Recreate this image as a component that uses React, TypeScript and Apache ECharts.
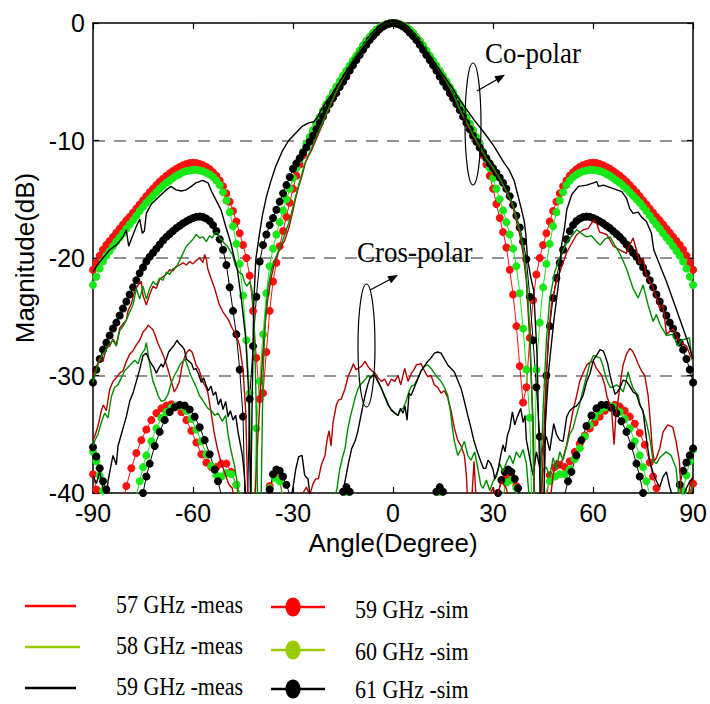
import React, { useEffect, useRef } from "react";
import * as echarts from "echarts";

// ---------- DATA ----------
const xTicks = [-90, -60, -30, 0, 30, 60, 90];
const yTicks = [-40, -30, -20, -10, 0];

// simulation grid: -90..90 step 1 deg
const simAngles = Array.from({ length: 181 }, (_, i) => i - 90);

// 59 GHz sim co-polar (red)
const sim59Co = [
  -21.0, -20.4, -19.8, -19.3, -18.9, -18.55, -18.2, -17.85, -17.5, -17.15, -16.8,
  -16.5, -16.15, -15.8, -15.45, -15.1, -14.75, -14.4, -14.1, -13.8, -13.5,
  -13.25, -13.0, -12.8, -12.6, -12.4, -12.25, -12.1, -12.0, -11.92, -11.9,
  -11.92, -12.0, -12.1, -12.25, -12.45, -12.7, -13.0, -13.4, -13.9, -14.5,
  -15.2, -16.0, -16.9, -17.9, -18.9, -20.0, -21.5, -24.5, -28.5, -32.0,
  -31.5, -28.0, -24.5, -22.0, -20.4, -19.0, -17.7, -16.5, -15.3, -14.1,
  -13.0, -12.05, -11.25, -10.55, -9.9, -9.25, -8.65, -8.1, -7.55, -7.0,
  -6.5, -6.0, -5.5, -5.05, -4.6, -4.15, -3.7, -3.25, -2.85, -2.4,
  -1.95, -1.55, -1.2, -0.85, -0.58, -0.38, -0.22, -0.1, -0.03,
  0,
  -0.03, -0.1, -0.22, -0.38, -0.58, -0.85, -1.2, -1.55, -1.95, -2.4,
  -2.85, -3.25, -3.7, -4.15, -4.6, -5.05, -5.5, -6.0, -6.5, -7.0,
  -7.55, -8.1, -8.65, -9.25, -9.9, -10.55, -11.25, -12.05, -13.0, -14.1,
  -15.4, -16.6, -17.8, -19.1, -21.0, -23.1, -25.8, -29.2, -32.3, -31.0,
  -26.8, -23.6, -21.4, -20.0, -18.9, -17.9, -16.9, -16.0, -15.2, -14.5,
  -13.9, -13.4, -13.0, -12.7, -12.45, -12.25, -12.1, -12.0, -11.92, -11.9,
  -11.92, -12.0, -12.1, -12.25, -12.4, -12.6, -12.8, -13.0, -13.25, -13.5,
  -13.8, -14.1, -14.4, -14.75, -15.1, -15.45, -15.8, -16.15, -16.5, -16.8,
  -17.15, -17.5, -17.85, -18.2, -18.55, -18.9, -19.3, -19.8, -20.4, -21.0,
];

// 60 GHz sim co-polar (green)
const sim60Co = [
  -22.3, -21.6, -20.9, -20.3, -19.8, -19.4, -19.0, -18.6, -18.25, -17.9, -17.5,
  -17.15, -16.8, -16.4, -16.0, -15.65, -15.3, -15.0, -14.7, -14.4, -14.1,
  -13.85, -13.6, -13.4, -13.2, -13.0, -12.85, -12.7, -12.6, -12.55, -12.5,
  -12.5, -12.55, -12.62, -12.75, -12.9, -13.1, -13.4, -13.8, -14.4, -15.1,
  -16.1, -17.3, -18.8, -20.5, -23.2, -27.0, -31.5, -46, -34.5, -30.5,
  -26.5, -23.0, -20.7, -19.2, -18.0, -16.95, -15.95, -15.0, -14.1, -13.2,
  -12.35, -11.6, -10.95, -10.3, -9.7, -9.1, -8.55, -8.0, -7.45, -6.9,
  -6.4, -5.9, -5.42, -4.95, -4.5, -4.07, -3.62, -3.18, -2.78, -2.33,
  -1.9, -1.52, -1.18, -0.85, -0.58, -0.38, -0.22, -0.1, -0.03,
  0,
  -0.03, -0.1, -0.22, -0.38, -0.58, -0.85, -1.18, -1.52, -1.9, -2.33,
  -2.78, -3.18, -3.62, -4.07, -4.5, -4.95, -5.42, -5.9, -6.4, -6.9,
  -7.45, -8.0, -8.55, -9.1, -9.7, -10.3, -10.95, -11.6, -12.35, -13.2,
  -14.1, -15.0, -15.95, -16.95, -18.0, -19.2, -20.7, -23.0, -26.0, -29.5,
  -33.6, -46, -29.5, -25.5, -22.5, -20.5, -18.8, -17.3, -16.1, -15.1,
  -14.4, -13.8, -13.4, -13.1, -12.9, -12.75, -12.62, -12.55, -12.5, -12.5,
  -12.55, -12.6, -12.7, -12.85, -13.0, -13.2, -13.4, -13.6, -13.85, -14.1,
  -14.4, -14.7, -15.0, -15.3, -15.65, -16.0, -16.4, -16.8, -17.15, -17.5,
  -17.9, -18.25, -18.6, -19.0, -19.4, -19.8, -20.3, -20.9, -21.6, -22.3,
];

// 61 GHz sim co-polar (black)
const sim61Co = [
  -30.6, -29.5, -28.6, -27.8, -27.2, -26.6, -26.0, -25.5, -24.9, -24.3, -23.7,
  -23.1, -22.5, -21.9, -21.3, -20.8, -20.3, -19.9, -19.55, -19.2, -18.85,
  -18.5, -18.2, -17.95, -17.7, -17.45, -17.25, -17.05, -16.88, -16.72, -16.6,
  -16.5, -16.48, -16.52, -16.65, -16.85, -17.2, -17.7, -18.4, -19.3, -20.6,
  -22.5, -24.5, -26.5, -29.5, -33.5, -46, -32.0, -27.5, -23.3, -20.3,
  -18.9, -18.0, -17.2, -16.6, -15.9, -15.2, -14.5, -13.8, -13.1, -12.4,
  -11.95, -11.5, -11.05, -10.6, -10.1, -9.6, -9.05, -8.5, -7.95, -7.4,
  -6.9, -6.4, -5.95, -5.45, -5.0, -4.55, -4.05, -3.6, -3.15, -2.72,
  -2.28, -1.85, -1.45, -1.12, -0.82, -0.52, -0.3, -0.14, -0.04,
  0,
  -0.04, -0.14, -0.3, -0.52, -0.82, -1.12, -1.45, -1.85, -2.28, -2.72,
  -3.15, -3.6, -4.05, -4.55, -5.0, -5.45, -5.95, -6.4, -6.9, -7.4,
  -7.95, -8.5, -9.05, -9.6, -10.1, -10.6, -11.05, -11.5, -11.95, -12.35,
  -12.75, -13.15, -13.6, -14.1, -14.75, -15.5, -16.4, -17.4, -18.6, -20.1,
  -23.3, -27.0, -31.0, -35.2, -46, -30.0, -25.8, -23.4, -21.7, -20.4,
  -19.3, -18.4, -17.7, -17.2, -16.85, -16.65, -16.52, -16.48, -16.5, -16.6,
  -16.72, -16.88, -17.05, -17.25, -17.45, -17.7, -17.95, -18.2, -18.5, -18.85,
  -19.2, -19.55, -19.9, -20.3, -20.8, -21.3, -21.9, -22.5, -23.1, -23.7,
  -24.3, -24.9, -25.5, -26.0, -26.6, -27.2, -27.8, -28.6, -29.5, -30.6,
];

// sim cross-polar [angle, dB] (values below -40 fall outside the frame)
const sim59X = [
  [-90, -38.4], [-89, -39.7], [-88, -42], [-86, -46], [-82, -46], [-81, -41], [-80, -39.4],
  [-78.5, -37.9], [-77, -36.6], [-75.5, -35.5], [-74, -34.6], [-72.5, -33.8], [-71, -33.2],
  [-69.5, -32.8], [-68, -32.55], [-66.5, -32.45], [-65, -32.6], [-63.5, -33.1], [-62, -33.8],
  [-60.5, -34.7], [-59, -35.7], [-57.5, -36.7], [-56, -37.4], [-54.5, -37.8], [-53, -37.8],
  [-51.5, -37.5], [-50, -37.5], [-48.5, -38.2], [-47, -39.3], [-46, -41], [-44, -46],
  [-38, -46], [-37, -39.4], [-35.5, -38.6], [-34, -38.8], [-33, -40.5], [-32, -46],
  [-16, -46], [-15, -40.2], [-14, -39.8], [-13, -40.2], [-12, -46],
  [12, -46], [13, -40.2], [14, -39.8], [15, -40.2], [16, -46],
  [32, -46], [33, -40.5], [34, -38.8], [35.5, -38.6], [37, -39.4], [38, -46],
  [44, -46], [46, -40.5], [47, -38.5], [48.5, -37.8], [50, -37.6], [51.5, -37.8], [53, -37.3],
  [54.5, -36.5], [56, -35.8], [57.5, -35.1], [59, -34.5], [60.5, -34.0], [62, -33.5],
  [63.5, -33.0], [65, -32.7], [66.5, -32.5], [68, -32.65], [69.5, -33.0], [71, -33.5],
  [72.5, -34.1], [74, -34.9], [75.5, -35.9], [77, -37.4], [78, -38.6], [79, -39.6], [80, -41],
  [82, -46], [88, -46], [89, -40.5], [90, -39.2],
];
const sim60X = [
  [-90, -36.5], [-89, -37.3], [-88, -38.5], [-87, -39.8], [-86, -41.5], [-84, -46], [-78, -46],
  [-77, -40.2], [-76, -39.0], [-75, -37.8], [-74, -36.8], [-72.5, -35.6], [-71, -34.5],
  [-69.5, -33.6], [-68, -33.1], [-66.5, -32.75], [-65, -32.55], [-63.5, -32.6], [-62, -33.0],
  [-60.5, -33.7], [-59, -34.6], [-57.5, -35.6], [-56, -36.7], [-54.5, -37.7], [-53, -38.5],
  [-51.5, -38.6], [-50, -38.3], [-48.5, -38.4], [-47, -39.3], [-45.5, -40.2], [-44, -46],
  [-38, -46], [-37, -39.6], [-35.5, -38.7], [-34, -39.0], [-33, -40.5], [-32, -46],
  [-16, -46], [-15, -40.3], [-14, -39.9], [-13, -40.3], [-12, -46],
  [12, -46], [13, -40.3], [14, -39.9], [15, -40.3], [16, -46],
  [32, -46], [33, -40.2], [34, -39.1], [35.5, -38.9], [37, -39.6], [38, -46],
  [44, -46], [45.5, -40.2], [47, -39.0], [48.5, -38.6], [50, -38.4], [51.5, -38.4], [53, -38.0],
  [54.5, -37.1], [56, -36.2], [57.5, -35.2], [59, -34.2], [60.5, -33.5], [62, -33.0],
  [63.5, -32.7], [65, -32.6], [66.5, -32.7], [68, -33.1], [69.5, -33.7], [71, -34.5],
  [72.5, -35.6], [74, -36.8], [75, -37.8], [76, -39.0], [77, -40.2], [78, -46], [84, -46],
  [86, -41.5], [87, -39.8], [88, -38.5], [89, -37.3], [90, -36.3],
];
const sim61X = [
  [-90, -36.1], [-89, -36.9], [-88, -37.9], [-87, -39.0], [-86, -39.7], [-85, -41], [-83, -46],
  [-77, -46], [-76, -41.5], [-75, -40], [-74, -38.6], [-73, -37.5], [-71.5, -36.0], [-70, -34.8],
  [-68.5, -33.8], [-67, -33.1], [-65.5, -32.7], [-64, -32.5], [-62.5, -32.55], [-61, -32.9],
  [-59.5, -33.5], [-58, -34.4], [-56.5, -35.5], [-55, -36.7], [-53.5, -38.0], [-52.5, -39.0],
  [-51.5, -40.2], [-50, -46],
  [-38, -46], [-37, -39.7], [-36, -38.4], [-35, -38.0], [-34, -38.1], [-33, -38.6], [-32, -39.3],
  [-31, -40.1], [-30, -46],
  [-16, -46], [-15, -39.9], [-14, -39.5], [-13, -39.9], [-12, -46],
  [12, -46], [13, -39.9], [14, -39.5], [15, -39.9], [16, -46],
  [30, -46], [31.5, -40], [32.5, -38.9], [33.5, -38.2], [34.5, -38.0], [35.5, -38.2],
  [36.5, -38.8], [37.5, -39.6], [38.5, -41], [40, -46],
  [50, -46], [51.5, -40.1], [52.5, -39.0], [53.5, -38.2], [55, -36.8], [56.5, -35.5], [58, -34.3],
  [59.5, -33.4], [61, -32.8], [62.5, -32.5], [64, -32.5], [65.5, -32.75], [67, -33.2],
  [68.5, -33.9], [70, -34.8], [71.5, -36.0], [73, -37.5], [74, -38.6], [75, -40], [76, -41.5],
  [77, -46], [83, -46], [85, -41], [86, -39.3], [87, -38.1], [88, -37.4], [89, -36.8], [90, -36.2],
];

// measured co-polar [angle, dB]
const meas57Co = [
  [-90, -30.0], [-89, -29.3], [-88, -28.5], [-87, -28.8], [-86, -27.6], [-85, -27.5], [-84, -26.9],
  [-83, -27.4], [-82, -26.0], [-81, -25.6], [-80, -25.3], [-79.5, -24.5], [-78.5, -23.9],
  [-77.5, -22.8], [-76.5, -22.3], [-75.5, -22.0], [-75, -23.2], [-74, -24.0], [-73, -23.1],
  [-72, -22.4], [-71, -22.6], [-70, -21.8], [-69, -21.6], [-68, -21.4], [-67, -21.0], [-66, -21.1],
  [-65, -20.7], [-64, -20.6], [-63, -20.4], [-62, -20.6], [-61, -20.3], [-60, -20.5], [-59, -20.2],
  [-58, -20.0], [-57, -20.4], [-56.5, -19.7], [-56, -20.1], [-55.6, -20.9], [-54.5, -21.8],
  [-53.5, -22.6], [-52.2, -23.9], [-51, -24.6], [-49.5, -25.2], [-48.2, -26.0], [-47, -26.6],
  [-46, -27.5], [-45, -29.5], [-44.2, -33], [-43.5, -41], [-41.5, -41], [-40.5, -35], [-39.5, -30],
  [-38.5, -26], [-37.5, -23.3], [-36.5, -21.6], [-35.5, -20.4], [-34.5, -19.6], [-33.5, -19.0],
  [-32.5, -18.5], [-31.3, -17.5], [-30.2, -16.2], [-29.3, -15.0], [-28.3, -13.9], [-27.3, -13.0],
  [-26.3, -11.9], [-25.3, -11.3], [-24.4, -10.8], [-23.2, -10.0], [-22, -9.2], [-20, -7.8],
  [-18, -6.5], [-16, -5.3], [-14, -4.2], [-12, -3.2], [-10, -2.4], [-8, -1.6], [-6, -0.95],
  [-4, -0.45], [-2, -0.12], [0, 0], [2, -0.1], [4, -0.4], [6, -0.9], [8, -1.55], [10, -2.35],
  [12, -3.2], [14, -4.1], [16, -5.0], [18, -6.1], [20, -7.4], [22, -8.5], [24, -9.6], [26, -10.6],
  [28, -11.6], [30, -12.4], [32, -13.3], [34, -14.4], [36, -15.7], [38, -18.0], [39, -19.6],
  [40, -22], [41, -27], [42, -34], [42.5, -41], [44.5, -41], [45.5, -33], [46.5, -27], [47.5, -24],
  [49, -22], [50.5, -20.8], [52, -19.6], [53.1, -19.0], [55.1, -18.0], [57.1, -17.6],
  [58.5, -17.5], [60.1, -16.8], [61, -17.0], [62, -17.8], [64.1, -18.0], [66.1, -19.0],
  [68, -19.3], [70, -19.6], [71, -18.9], [72, -18.3], [73, -19.3], [74, -20.5], [75, -20.0],
  [76, -21.5], [78, -22.5], [80, -24.3], [81, -24.0], [82, -26.5], [84, -26.0], [85.9, -27.1],
  [88, -27.5], [89, -28.2], [90, -28.8],
];
const meas58Co = [
  [-90, -30.6], [-89, -29.5], [-88, -28.7], [-87, -28.2], [-86, -27.8], [-85, -27.3], [-84, -27.0],
  [-83, -27.5], [-82, -26.2], [-81, -25.8], [-80, -25.3], [-79, -24.6], [-78, -24.0], [-77, -22.6],
  [-76, -23.5], [-75, -22.4], [-74, -23.5], [-73, -22.6], [-72, -22.0], [-71, -22.3], [-70, -21.7],
  [-69, -21.9], [-68, -21.2], [-67, -21.4], [-66, -20.9], [-65, -20.8], [-64, -20.2], [-63, -19.6],
  [-62, -19.0], [-61, -18.7], [-60, -18.4], [-59, -18.0], [-58, -18.3], [-57, -18.2], [-56, -18.6],
  [-55, -18.1], [-54.2, -18.3], [-53.5, -17.9], [-52.7, -17.8], [-52, -18.3], [-51.2, -18.5],
  [-50.5, -18.8], [-49.7, -19.0], [-48.2, -19.7], [-47.2, -20.7], [-46.2, -21.2], [-45.2, -21.4],
  [-44.5, -22.1], [-43.8, -22.4], [-43.0, -22.0], [-42.3, -22.7], [-41.6, -26], [-41.1, -32],
  [-40.6, -41], [-39.6, -41], [-39, -30], [-38.3, -25], [-37.5, -22.5], [-36.5, -21],
  [-35.5, -20.2], [-34.5, -19.5], [-33.5, -18.8], [-32.5, -18.0], [-31.5, -17.2], [-30.5, -16.2],
  [-29.5, -15.1], [-28.5, -14.0], [-27.5, -13.0], [-26.5, -12.0], [-25.5, -11.3], [-24.5, -10.7],
  [-23.3, -9.9], [-22, -9.0], [-20, -7.7], [-18, -6.4], [-16, -5.2], [-14, -4.1], [-12, -3.1],
  [-10, -2.3], [-8, -1.55], [-6, -0.9], [-4, -0.42], [-2, -0.1], [0, 0], [2, -0.1], [4, -0.38],
  [6, -0.88], [8, -1.5], [10, -2.3], [12, -3.15], [14, -4.05], [16, -4.95], [18, -6.0], [20, -7.3],
  [22, -8.4], [24, -9.5], [26, -10.5], [28, -11.5], [30, -12.3], [32, -13.2], [34, -14.3],
  [36, -15.5], [38, -17.6], [39, -19.0], [40, -21.5], [41, -26], [41.8, -33], [42.3, -41],
  [44, -41], [45, -33], [46, -27], [47, -23.5], [48.5, -21.2], [50, -20.0], [51.5, -19.0],
  [53.1, -18.3], [55.1, -17.6], [56.5, -17.9], [58, -18.2], [59.5, -18.1], [61, -18.6],
  [62.1, -18.9], [63.5, -18.4], [65.1, -18.2], [66.5, -18.9], [68, -19.6], [70, -20.9],
  [72, -22.6], [73.5, -23.4], [75, -22.3], [76.5, -24.0], [78, -25.4], [79, -24.8], [80, -25.6],
  [82, -26.6], [83.9, -26.5], [85.5, -27.5], [86.5, -27.0], [88.9, -26.8], [89.4, -28.0], [90, -28.8],
];
const meas59Co = [
  [-90, -21.2], [-88.5, -20.5], [-87, -20.0], [-85, -19.3], [-83, -18.9], [-81, -18.2], [-80, -17.6],
  [-79.3, -19.0], [-78.5, -18.4], [-77, -17.3], [-76, -16.7], [-75.2, -17.9], [-74.6, -17.7],
  [-74, -16.2], [-72.5, -15.4], [-71, -15.0], [-69.5, -14.6], [-68, -14.2], [-66.6, -13.9],
  [-65.1, -14.2], [-63.5, -14.3], [-62.1, -14.2], [-60.5, -13.9], [-59.1, -13.6], [-57.1, -13.4],
  [-55.5, -13.6], [-54.5, -14.3], [-53.6, -14.8], [-51.6, -15.9], [-50.2, -17.3], [-48.7, -18.7],
  [-47.7, -19.9], [-46.7, -21.0], [-45.5, -23.5], [-44.2, -26.8], [-43.3, -31.5], [-42.7, -41],
  [-42.3, -33], [-41.8, -24], [-41.2, -20.2], [-40.2, -18.2], [-39.2, -16.4], [-38, -14.8],
  [-36.7, -13.5], [-35.2, -12.2], [-33.3, -10.95], [-31.3, -10.0], [-29.3, -9.4], [-27.3, -8.8],
  [-25.3, -8.5], [-23.8, -8.4], [-22.6, -8.0], [-21.4, -7.3], [-20, -6.7], [-18, -5.9], [-16, -5.0],
  [-14, -4.1], [-12, -3.3], [-10, -2.5], [-8, -1.75], [-6, -1.0], [-4, -0.45], [-2, -0.12], [0, 0],
  [2, -0.1], [4, -0.4], [6, -0.9], [8, -1.6], [10, -2.4], [12, -3.2], [14, -4.0], [16, -4.8],
  [18, -5.6], [19.4, -6.3], [21.4, -7.1], [24.3, -8.25], [26.3, -8.96], [28.3, -9.7], [30.3, -10.5],
  [31.8, -11.2], [33.3, -11.9], [34.8, -12.5], [36.3, -13.4], [37.3, -14.5], [38.3, -15.6],
  [39.3, -16.8], [39.8, -17.9], [40.3, -20.0], [41.2, -21.5], [42.2, -22.8], [43.2, -28.3],
  [43.8, -36], [44.2, -41], [45.2, -41], [45.7, -34], [46.7, -29.5], [48.2, -25.4], [49.7, -22.0],
  [50.5, -19.0], [51.5, -17.3], [52.1, -15.9], [53.6, -14.6], [55.6, -13.9], [58.1, -13.8],
  [60.1, -13.6], [61.1, -13.5], [61.6, -13.9], [63.1, -13.8], [66.1, -14.1], [68.6, -14.35],
  [70, -14.9], [71, -15.8], [72, -16.2], [73.5, -16.1], [74.5, -16.5], [76, -16.9], [77.5, -17.9],
  [78.2, -19.3], [80, -20.6], [82, -22.0], [84, -23.6], [86, -25.2], [88, -26.8], [90, -28.6],
];

// measured cross-polar [angle, dB]
const meas57X = [
  [-90, -35.5], [-89.4, -35.1], [-88.5, -34.3], [-87.5, -33.0], [-86.9, -32.5], [-86, -33.0],
  [-85, -31.2], [-84, -30.5], [-83, -30.2], [-82, -29.8], [-81, -29.6], [-80, -28.8], [-79, -28.2],
  [-78, -27.9], [-77, -27.4], [-76, -27.0], [-75, -26.3], [-74, -26.0], [-73.5, -25.7],
  [-72.8, -25.9], [-72, -26.1], [-71.2, -26.7], [-70.5, -27.3], [-69.5, -27.9], [-68.5, -28.6],
  [-67.6, -29.4], [-66.6, -30.4], [-65.6, -31.4], [-64.8, -31.0], [-64.1, -30.5], [-63.3, -29.2],
  [-62.6, -28.5], [-61.8, -28.0], [-61.1, -27.8], [-60.3, -28.0], [-59.6, -28.6], [-59.1, -29.1],
  [-58.2, -29.5], [-57.1, -30.5], [-56.3, -30.9], [-55.6, -31.4], [-54.6, -33.1], [-53.7, -34.8],
  [-52.7, -36.2], [-51.7, -37.3], [-50.6, -38.2], [-49.2, -39.3], [-48.2, -39.6], [-47.5, -41],
  [-30, -41], [-28, -40.5], [-27, -40], [-26, -39.5], [-25, -40.2], [-24, -39.2], [-23.2, -38.8],
  [-22.4, -38.8], [-21.5, -37.6], [-20.4, -36.8], [-19.8, -35.5], [-19.2, -34.7], [-18.6, -36.0],
  [-18, -34.0], [-17, -32.5], [-16.4, -32.1], [-15.5, -32.0], [-14.5, -31.2], [-13.4, -30.0],
  [-12.7, -29.6], [-11.9, -29.0], [-11.1, -29.5], [-10.4, -29.4], [-9.4, -29.2], [-8.4, -28.8],
  [-7.4, -29.3], [-6.4, -29.6], [-5.4, -29.8], [-4.5, -30.2], [-3.5, -30.5], [-2.5, -30.3],
  [-1.5, -30.9], [-0.5, -30.3], [0.5, -30.5], [1.5, -30.0], [2.3, -30.8], [3.5, -29.4],
  [4.5, -30.5], [5.5, -29.8], [6.3, -29.5], [7, -29.1], [8.4, -29.0], [9.4, -29.6], [10.4, -30.1],
  [11.4, -30.0], [12.4, -30.8], [13.4, -31.0], [14.4, -31.5], [15.4, -31.3], [16.4, -31.9],
  [17.4, -33.0], [18.4, -34.5], [19.4, -35.5], [20.4, -36.0], [21.4, -36.8], [22.0, -38.5],
  [22.4, -41], [23.5, -41], [24.3, -37.3], [25, -41], [28, -41], [30, -39.5], [31, -40.5],
  [32.5, -39.0], [34, -39.6], [35, -41], [47, -41], [48, -38.5], [49, -37.2], [50, -37.8],
  [51, -37.0], [52, -36.0], [53, -34.5], [54, -33.0], [55, -31.8], [56, -30.5], [57, -29.8],
  [58.1, -29.1], [59, -28.9], [60.1, -28.8], [61, -29.4], [62.6, -30.0], [63.5, -30.8],
  [64.1, -31.7], [65, -32.5], [65.6, -33.1], [66.3, -35.9], [66.8, -33.5], [67.6, -31.9],
  [68.3, -30.4], [69, -29.1], [70, -28.2], [71, -27.7], [71.8, -27.9], [72.5, -28.3],
  [73.5, -29.0], [74.5, -29.6], [75.5, -30.0], [76.5, -31.7], [77.2, -34.0], [77.7, -36.0],
  [78.3, -37.3], [79, -37.0], [80, -36.2], [81, -34.8], [82.4, -34.2], [83.9, -34.4],
  [84.9, -35.6], [85.9, -37.3], [86.6, -41], [88, -41], [89, -39.5], [90, -38.5],
];
const meas58X = [
  [-90, -36.0], [-89.4, -35.5], [-88.5, -35.0], [-87.5, -34.0], [-86.5, -33.2], [-85.5, -33.6],
  [-84.5, -31.8], [-83.5, -31.0], [-82.5, -30.8], [-81.5, -30.2], [-80.5, -29.6], [-79.5, -29.3],
  [-78.5, -29.0], [-77.5, -28.7], [-76.5, -29.0], [-75.5, -28.2], [-74.5, -27.8], [-74, -27.2],
  [-73.3, -28.5], [-72.5, -29.8], [-72, -30.5], [-71.3, -31.0], [-70.5, -31.7], [-69.5, -32.2],
  [-68.5, -32.1], [-67.5, -31.6], [-66.5, -30.6], [-65.6, -30.0], [-64.6, -29.5], [-63.8, -29.0],
  [-63.1, -28.8], [-62.4, -28.6], [-61.6, -29.2], [-60.8, -29.9], [-60, -30.4], [-59, -31.0],
  [-58.1, -31.7], [-57.3, -32.0], [-56.5, -32.4], [-55.5, -32.8], [-54.5, -33.0], [-53.5, -33.4],
  [-52.5, -33.2], [-51.2, -33.9], [-50.2, -33.4], [-49.5, -35.0], [-48.6, -36.4], [-47.6, -37.6],
  [-46.8, -39.0], [-46, -41],
  [-18, -41], [-16.8, -39.6], [-16, -38.0], [-15.2, -37.0], [-14.4, -36.2], [-13.6, -34.6],
  [-12.8, -33.5], [-12, -32.6], [-11.4, -31.9], [-10.6, -31.2], [-9.9, -30.8], [-8.8, -30.5],
  [-7.4, -30.0], [-6.6, -30.2], [-5.7, -29.8], [-4.8, -30.4], [-3.8, -30.9], [-2.5, -31.7],
  [-1.5, -32.4], [-0.5, -33.0], [0.6, -33.2], [1.5, -33.4], [2.3, -32.9], [3.0, -32.8],
  [3.8, -32.3], [4.6, -31.5], [5.5, -30.9], [6.4, -30.8], [7.5, -30.2], [8.5, -29.6], [9.5, -29.2],
  [10.4, -29.1], [11.4, -29.4], [12.4, -29.8], [13.4, -30.2], [14.4, -30.5], [15.4, -31.0],
  [16.4, -31.7], [17.2, -33.0], [17.8, -34.5], [18.4, -35.6], [19.4, -36.8], [20.4, -36.3],
  [21.4, -35.6], [22.4, -36.8], [23.4, -37.2], [24.5, -36.5], [25.5, -38.0], [26.3, -39.3],
  [27, -39.6], [28, -38.9], [29, -39.8], [30, -39.0], [31, -38.6], [32, -37.5], [33, -38.2],
  [34, -37.4], [35, -36.8], [36, -37.5], [37, -36.5], [38, -37.0], [39, -36.3], [40, -37.5],
  [41, -41], [44, -41], [45, -38], [46, -37.8], [47, -38.6], [48, -37.0], [49, -38.0], [50, -36.5],
  [51, -37.2], [52, -36.1], [53, -35.0], [54, -34.5], [55, -33.4], [56, -32.4], [57, -31.2],
  [58.1, -30.0], [59, -29.0], [60.1, -28.3], [61, -28.4], [62.1, -28.5], [63, -29.2], [64, -30.3],
  [65.1, -31.0], [66, -31.0], [67, -30.8], [68, -31.0], [69, -31.4], [69.8, -30.6], [70.5, -29.7],
  [71.2, -30.4], [72, -31.1], [73.5, -31.7], [74.2, -32.6], [75, -33.1], [76, -34.0], [77, -35.3],
  [78, -37.3], [79, -37.5], [80, -37.0], [81.9, -36.5], [83.4, -36.8], [84.9, -37.9],
  [85.7, -40.2], [86.5, -41], [88, -41], [89, -40], [90, -39.2],
];
const meas59X = [
  [-90, -38.5], [-89, -39.2], [-88, -38.2], [-87, -39.5], [-86, -40.5], [-85.5, -39], [-84.5, -37.5],
  [-84, -36.8], [-83, -37.6], [-82.5, -36.0], [-81.5, -35.0], [-81, -34.5], [-80, -33.5],
  [-79, -32.2], [-78, -31.5], [-77, -30.5], [-76, -29.5], [-75, -28.3], [-74, -28.1],
  [-73.3, -28.6], [-72.5, -29.0], [-71.8, -29.3], [-71, -29.8], [-70.5, -29.5], [-69.5, -29.0],
  [-69, -29.3], [-68, -28.6], [-67.3, -28.0], [-66.5, -27.7], [-65.6, -27.4], [-64.8, -27.0],
  [-64.1, -27.3], [-63.3, -27.5], [-62.6, -27.8], [-62, -28.6], [-61.2, -28.8], [-60.4, -29.0],
  [-59.8, -29.5], [-59.1, -29.4], [-58.3, -29.9], [-57.5, -30.6], [-56.8, -30.2], [-56.1, -30.8],
  [-55.4, -31.3], [-54.6, -30.9], [-53.9, -31.7], [-53.2, -31.4], [-52.4, -32.5], [-51.7, -32.0],
  [-51, -32.9], [-50.2, -32.2], [-49.5, -33.5], [-48.8, -33.0], [-48, -33.8], [-47.2, -33.4],
  [-46.5, -34.8], [-45.7, -36.0], [-45.2, -36.8], [-44.6, -38.4], [-44, -41],
  [-31, -41], [-30, -39.5], [-29.2, -38.0], [-28.3, -36.9], [-27.3, -36.8], [-26.5, -38.5],
  [-25.5, -38.8], [-24.8, -40.5], [-24, -41],
  [-16, -41], [-15.2, -40.2], [-14.4, -39.0], [-13.4, -37.5], [-12.4, -36.2], [-11.4, -35.6],
  [-10.6, -34.8], [-9.9, -33.8], [-9.2, -32.8], [-8.4, -31.7], [-7.6, -30.8], [-6.9, -30.2],
  [-6.1, -30.0], [-5.4, -30.0], [-4.5, -30.5], [-3.5, -31.1], [-2.5, -31.8], [-1.5, -32.5],
  [-0.5, -32.9], [0.5, -33.2], [1.5, -33.4], [2.2, -32.8], [3.0, -33.2], [3.6, -32.6], [4.2, -33.8],
  [4.8, -31.5], [5.4, -31.7], [6.4, -31.0], [7.4, -30.3], [8.4, -29.6], [9.4, -29.2], [10.4, -28.8],
  [11.4, -28.5], [12.4, -28.1], [13.4, -28.0], [14.4, -28.1], [15.4, -28.6], [16.4, -29.1],
  [17.4, -29.4], [18.4, -29.7], [19.4, -30.4], [20.4, -31.1], [21.4, -32.2], [22.4, -33.4],
  [23.4, -34.5], [24.3, -35.6], [25.3, -36.5], [26.3, -37.3], [27.1, -37.9], [27.8, -37.9],
  [28.5, -37.2], [29.3, -37.5], [30, -38.0], [30.5, -38.8], [31.5, -38.0], [32.3, -36.8],
  [33, -35.9], [33.6, -36.5], [34.3, -35.1], [35, -34.5], [35.8, -33.1], [36.5, -34.2],
  [37.3, -33.5], [38.3, -32.8], [39, -34.0], [39.6, -33.4], [40, -35.5], [41, -37.0], [42, -38.5],
  [43, -36.5], [44, -37.8], [45, -36.0], [46, -35.2], [47, -36.4], [48.2, -34.1], [49, -35.0],
  [50, -35.5], [51, -35.6], [52.1, -33.5], [53, -33.0], [54.1, -32.7], [55, -32.6], [56.1, -32.2],
  [57, -31.7], [58, -30.6], [59.1, -29.8], [60.1, -28.7], [61, -28.3], [62.1, -27.8], [63, -27.9],
  [63.6, -28.3], [64.4, -29.0], [65.1, -30.0], [65.8, -30.8], [66.6, -31.6], [67.3, -31.4],
  [68.1, -31.0], [69, -30.4], [70, -30.5], [71, -30.9], [72, -31.4], [73, -31.6], [74, -32.5],
  [75, -33.0], [75.6, -34.5], [76.3, -36.0], [77, -37.3], [78, -38.3], [79, -39.0], [80, -39.5],
  [81, -38.6], [82, -38.2], [83, -39.5], [84, -40.5], [84.5, -41], [86, -41], [87, -40.3],
  [88, -39.6], [89, -39.0], [90, -38.7],
];

// legend entries
const legendMeas = [
  { label: "57 GHz -meas", color: "#ff0000" },
  { label: "58 GHz -meas", color: "#99cc00" },
  { label: "59 GHz -meas", color: "#000000" },
];
const legendSim = [
  { label: "59 GHz -sim", color: "#ff0000" },
  { label: "60 GHz -sim", color: "#99cc00" },
  { label: "61 GHz -sim", color: "#000000" },
];

const SIM_RED = "#ff1010";
const SIM_GREEN = "#18e818";
const MEAS_RED = "#b00000";
const MEAS_GREEN = "#008c00";

const toPairs = (vals: number[]) => simAngles.map((a, i) => [a, vals[i]]);

export default function App() {
  const ref = useRef<HTMLDivElement>(null);

  useEffect(() => {
    if (!ref.current) return;
    const chart = echarts.init(ref.current, null, { renderer: "svg" });

    const axisFont = "Liberation Sans";
    const serif = '"Liberation Serif"';
    const simSeries = (data: any[], color: string, z: number) => ({
      type: "line",
      data,
      symbol: "circle",
      symbolSize: 8,
      showSymbol: true,
      showAllSymbol: true,
      clip: true,
      z,
      lineStyle: { width: 1, color },
      itemStyle: { color, borderWidth: 0 },
      emphasis: { disabled: true },
    });
    const measSeries = (data: any[], color: string, z: number) => ({
      type: "line",
      data,
      symbol: "none",
      showSymbol: false,
      clip: true,
      z,
      lineStyle: { width: 1.4, color },
      emphasis: { disabled: true },
    });

    const tallText = (text: string, x: number, y: number, size: number, sy: number) => ({
      type: "text",
      x,
      y,
      scaleY: sy,
      z: 100,
      style: {
        text,
        font: `${size}px ${serif}`,
        lineHeight: size,
        fill: "#000",
        align: "left",
        verticalAlign: "middle",
      },
    });

    const legendGraphics: any[] = [];
    const measRowsY = [606, 647, 688];
    const measLineEnd = [76, 80, 76];
    const simRowsY = [607, 650, 689];
    const simTextY = [609, 651, 689];
    legendMeas.forEach((it, i) => {
      legendGraphics.push({
        type: "line",
        shape: { x1: 25, y1: measRowsY[i], x2: measLineEnd[i], y2: measRowsY[i] },
        style: { stroke: it.color, lineWidth: 2.5 },
      });
      legendGraphics.push(tallText(it.label, 116, measRowsY[i] - 2, 22, 1.15));
    });
    legendSim.forEach((it, i) => {
      legendGraphics.push({
        type: "line",
        shape: { x1: 271, y1: simRowsY[i], x2: 325, y2: simRowsY[i] },
        style: { stroke: it.color, lineWidth: 2.5 },
      });
      legendGraphics.push({
        type: "ellipse",
        shape: { cx: 293, cy: simRowsY[i], rx: 7.5, ry: 9.5 },
        style: { fill: it.color },
      });
      legendGraphics.push(tallText(it.label, 355, simTextY[i], 22, 1.15));
    });

    const annotation: any[] = [
      tallText("Co-polar", 485, 52, 27, 1.12),
      {
        type: "ellipse",
        z: 100,
        shape: { cx: 473, cy: 124, rx: 8, ry: 61 },
        style: { fill: "none", stroke: "#000", lineWidth: 1.2 },
      },
      {
        type: "line",
        z: 100,
        shape: { x1: 477, y1: 91, x2: 497, y2: 79.5 },
        style: { stroke: "#000", lineWidth: 1.3 },
      },
      {
        type: "polygon",
        z: 100,
        shape: { points: [[505, 74.8], [498.3, 83.3], [494.3, 76.3]] },
        style: { fill: "#000" },
      },
      tallText("Cros-polar", 357, 251, 27, 1.12),
      {
        type: "ellipse",
        z: 100,
        shape: { cx: 366.5, cy: 345.5, rx: 8.5, ry: 61.5 },
        style: { fill: "none", stroke: "#000", lineWidth: 1.2 },
      },
      {
        type: "line",
        z: 100,
        shape: { x1: 370, y1: 290, x2: 390, y2: 279.5 },
        style: { stroke: "#000", lineWidth: 1.3 },
      },
      {
        type: "polygon",
        z: 100,
        shape: { points: [[398, 275], [391.1, 283.2], [387.3, 276.2]] },
        style: { fill: "#000" },
      },
    ];

    const option: any = {
      animation: false,
      backgroundColor: "#ffffff",
      grid: { left: 93, right: 13, top: 23, bottom: 211, containLabel: false },
      xAxis: [
        {
          type: "value",
          min: xTicks[0],
          max: xTicks[xTicks.length - 1],
          interval: 30,
          position: "bottom",
          name: "Angle(Degree)",
          nameLocation: "middle",
          nameGap: 36,
          nameTextStyle: { fontFamily: axisFont, fontSize: 26, color: "#000" },
          axisLine: { onZero: false, lineStyle: { color: "#000", width: 1.5 } },
          axisTick: { inside: true, length: 6, lineStyle: { color: "#000", width: 1.2 } },
          axisLabel: { fontFamily: axisFont, fontSize: 25, color: "#000", margin: 7 },
          splitLine: { show: false },
        },
        {
          type: "value",
          min: xTicks[0],
          max: xTicks[xTicks.length - 1],
          interval: 30,
          position: "top",
          axisLine: { onZero: false, lineStyle: { color: "#000", width: 1.5 } },
          axisTick: { inside: true, length: 6, lineStyle: { color: "#000", width: 1.2 } },
          axisLabel: { show: false },
          splitLine: { show: false },
        },
      ],
      yAxis: [
        {
          type: "value",
          min: yTicks[0],
          max: yTicks[yTicks.length - 1],
          interval: 10,
          position: "left",
          name: "Magnitude(dB)",
          nameLocation: "middle",
          nameGap: 50,
          nameTextStyle: { fontFamily: axisFont, fontSize: 26, color: "#000" },
          axisLine: { onZero: false, lineStyle: { color: "#000", width: 1.5 } },
          axisTick: { inside: true, length: 6, lineStyle: { color: "#000", width: 1.2 } },
          axisLabel: { fontFamily: axisFont, fontSize: 25, color: "#000", margin: 8 },
          splitLine: {
            show: true,
            showMinLine: false,
            showMaxLine: false,
            lineStyle: { type: [12, 9], color: "#6e6e6e", width: 1.5 },
          },
        },
        {
          type: "value",
          min: yTicks[0],
          max: yTicks[yTicks.length - 1],
          interval: 10,
          position: "right",
          axisLine: { onZero: false, lineStyle: { color: "#000", width: 1.5 } },
          axisTick: { inside: true, length: 6, lineStyle: { color: "#000", width: 1.2 } },
          axisLabel: { show: false },
          splitLine: { show: false },
        },
      ],
      series: [
        { name: "59 GHz -sim", ...simSeries(sim59X, SIM_RED, 2) },
        { name: "60 GHz -sim", ...simSeries(sim60X, SIM_GREEN, 2) },
        { name: "61 GHz -sim", ...simSeries(sim61X, "#000", 2) },
        { name: "59 GHz -sim", ...simSeries(toPairs(sim59Co), SIM_RED, 2) },
        { name: "60 GHz -sim", ...simSeries(toPairs(sim60Co), SIM_GREEN, 2) },
        { name: "61 GHz -sim", ...simSeries(toPairs(sim61Co), "#000", 2) },
        { name: "57 GHz -meas", ...measSeries(meas57X, MEAS_RED, 3) },
        { name: "58 GHz -meas", ...measSeries(meas58X, MEAS_GREEN, 3) },
        { name: "59 GHz -meas", ...measSeries(meas59X, "#000", 3) },
        { name: "57 GHz -meas", ...measSeries(meas57Co, MEAS_RED, 3) },
        { name: "58 GHz -meas", ...measSeries(meas58Co, MEAS_GREEN, 3) },
        { name: "59 GHz -meas", ...measSeries(meas59Co, "#000", 3) },
      ],
      graphic: [...annotation, ...legendGraphics],
    };

    chart.setOption(option);
    return () => chart.dispose();
  }, []);

  return (
    <div
      ref={ref}
      style={{ position: "fixed", left: 0, top: 0, width: 710, height: 704, background: "#fff" }}
    />
  );
}
